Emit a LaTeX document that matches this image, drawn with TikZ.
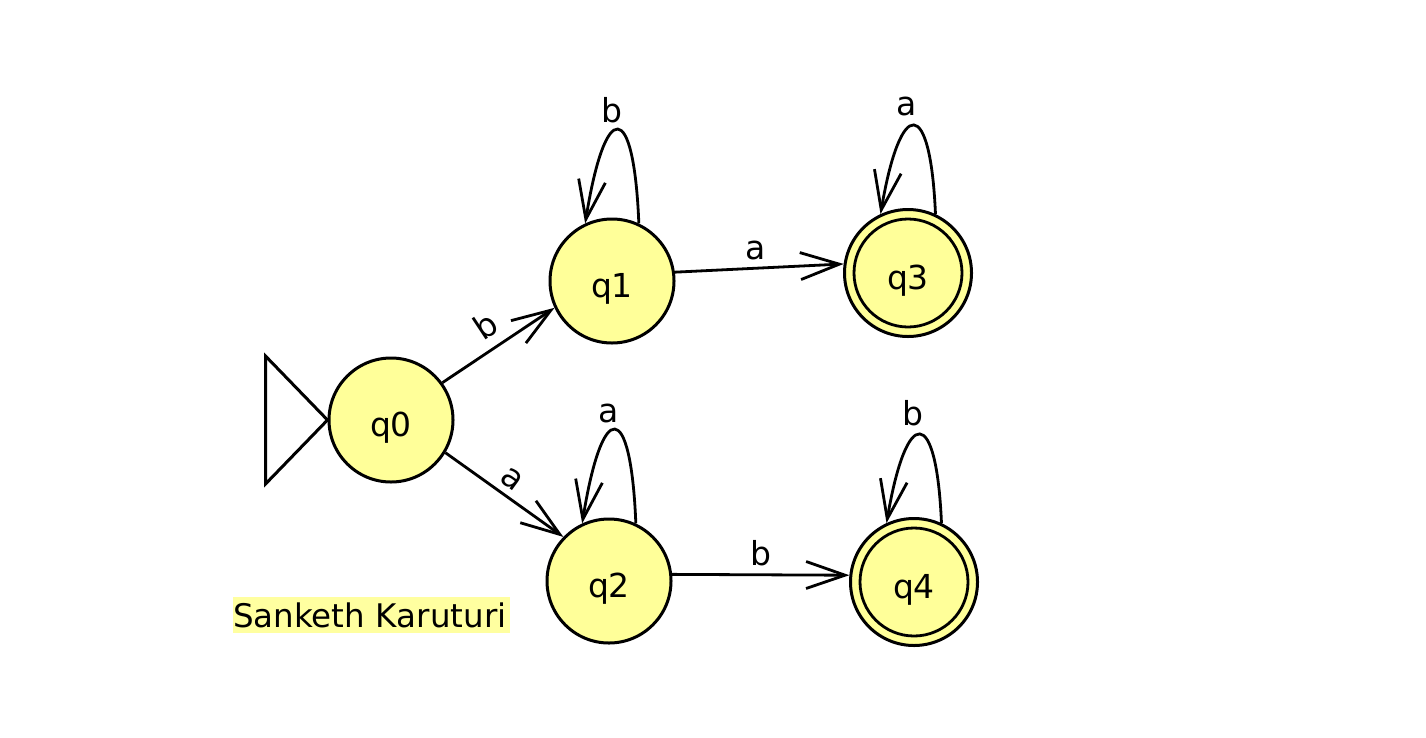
\documentclass[tikz,border=0pt]{standalone}
\usepackage{fontspec}
\setmainfont{DejaVu Sans}
\usetikzlibrary{arrows.meta}
\definecolor{stfill}{RGB}{255,255,153}
\definecolor{hlfill}{RGB}{255,255,160}
\tikzset{
  stnode/.style={circle,draw=black,fill=stfill,line width=3pt,minimum size=124pt,inner sep=0pt,text height=32pt,text depth=0pt,font=\fontsize{33}{38}\selectfont},
  edgeline/.style={line width=2.8pt,-{Straight Barb[length=39pt,width=27pt,line width=2.8pt]}},
  lbl/.style={font=\fontsize{33}{38}\selectfont,inner sep=0pt},
  innerring/.style={line width=2.8pt,draw=black}
}
\begin{document}
\begin{tikzpicture}[x=1pt,y=-1pt]
\useasboundingbox (0,0) rectangle (1426,737);
% states
\node[stnode] (q0) at (391,420) {q0};
\node[stnode] (q1) at (612,281) {q1};
\node[stnode] (q2) at (609,581) {q2};
\node[stnode,minimum size=127pt] (q3) at (908,273) {q3};
\node[stnode,minimum size=127pt] (q4) at (914,582) {q4};
\draw[innerring] (q3) circle (54);
\draw[innerring] (q4) circle (54);
% initial triangle
\draw[line width=3pt,line join=miter] (q0.west) -- ++(-62,-64) -- ++(0,128) -- cycle;
% transitions
\draw[edgeline] (q0.36) -- (q1.205);
\node[lbl,rotate=33.5] (lb01) at (485,325) {b};
\draw[edgeline] (q0.-31) -- (q2.136);
\node[lbl,rotate=-36] (la02) at (512,479) {a};
\draw[edgeline] (q1.8) -- node[lbl,above=7pt,pos=0.48] (la13) {a} (q3.172);
\draw[edgeline] (q2.6) -- node[lbl,above=7pt,pos=0.5] (lb24) {b} (q4.174);
% self loops
\draw[edgeline] (q1.65) .. controls +(-5,-125) and +(20,-125) .. (q1.115);
\draw[edgeline] (q2.65) .. controls +(-5,-125) and +(20,-125) .. (q2.115);
\draw[edgeline] (q3.65) .. controls +(-5,-118) and +(20,-118) .. (q3.115);
\draw[edgeline] (q4.65) .. controls +(-5,-118) and +(20,-118) .. (q4.115);
\node[lbl] (l1) at (612,110) {b};
\node[lbl] (l2) at (609,413) {a};
\node[lbl] (l3) at (907,106) {a};
\node[lbl] (l4) at (913,413) {b};
% author
\node[fill=hlfill,inner sep=0pt,minimum height=36pt,text width=277pt,align=left,font=\fontsize{32.5}{36}\selectfont] (auth) at (371.5,615) {Sanketh Karuturi};
\end{tikzpicture}
\end{document}
